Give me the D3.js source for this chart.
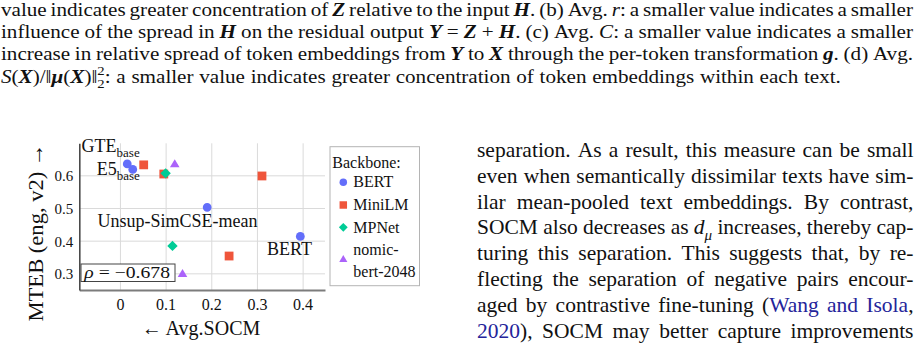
<!DOCTYPE html>
<html><head><meta charset="utf-8">
<script src="https://cdn.jsdelivr.net/npm/d3@7"></script>
<style>
body{margin:0;background:#fff}
svg{display:block}
text{font-family:"Liberation Serif","Times New Roman",Times,serif;fill:#111}
</style>
</head><body>
<svg id="c" width="923" height="362"></svg>
<script>
// ---------------- data ----------------
const backbones = ["BERT", "MiniLM", "MPNet", "nomic-bert-2048"];
const bertSOCM  = [0.016, 0.028, 0.191, 0.395];
const bertMTEB  = [0.635, 0.618, 0.502, 0.413];
const miniSOCM  = [0.052, 0.096, 0.311, 0.239];
const miniMTEB  = [0.632, 0.604, 0.598, 0.353];
const mpnetSOCM = [0.100, 0.115];
const mpnetMTEB = [0.606, 0.384];
const nomicSOCM = [0.120, 0.137];
const nomicMTEB = [0.635, 0.299];
const xTicks = [0, 0.1, 0.2, 0.3, 0.4];
const yTicks = [0.3, 0.4, 0.5, 0.6];
const xDomain = [-0.089, 0.449];
const yDomain = [0.249, 0.698];
const annoText = ["GTE", "E5", "Unsup-SimCSE-mean", "BERT"];
const annoSub  = ["base", "base", "", ""];
const annoSOCM = [-0.084, -0.051, -0.049, 0.322];
const annoMTEB = [0.672, 0.601, 0.443, 0.356];
const rho = -0.678;
const xTitle = "\u2190 Avg.SOCM";
const yTitle = "MTEB (eng, v2) \u2192";
const legendTitle = "Backbone:";

const captionLines = [
  "value indicates greater concentration of *Z* relative to the input *H*. (b) Avg. _r_: a smaller value indicates a smaller",
  "influence of the spread in *H* on the residual output *Y* = *Z* + *H*. (c) Avg. _C_: a smaller value indicates a smaller",
  "increase in relative spread of token embeddings from *Y* to *X* through the per-token transformation *g*. (d) Avg.",
  "_S_(*X*)/\u2016*\u03bc*(*X*)\u2016^{2}~{2}: a smaller value indicates greater concentration of token embeddings within each text."
];
const bodyLines = [
  "separation. As a result, this measure can be small",
  "even when semantically dissimilar texts have sim-",
  "ilar mean-pooled text embeddings. By contrast,",
  "SOCM also decreases as _d_`{\u03bc} increases, thereby cap-",
  "turing this separation. This suggests that, by re-",
  "flecting the separation of negative pairs encour-",
  "aged by contrastive fine-tuning ([Wang] [and] [Isola],",
  "[2020]), SOCM may better capture improvements"
];

// ---------------- helpers ----------------
const svg = d3.select("#c");
const linkColor = "#24249a";

function parseWord(w) {
  const re = /(\*[^*]+\*|_[^_]+_|\^\{[^}]*\}|~\{[^}]*\}|`\{[^}]*\}|\[[^\]]+\])/g;
  const segs = []; let last = 0, m;
  while ((m = re.exec(w))) {
    if (m.index > last) segs.push({t: w.slice(last, m.index), s: "n"});
    const tok = m[0];
    if (tok[0] === "*") segs.push({t: tok.slice(1, -1), s: "bi"});
    else if (tok[0] === "_") segs.push({t: tok.slice(1, -1), s: "i"});
    else if (tok[0] === "^") segs.push({t: tok.slice(2, -1), s: "sup"});
    else if (tok[0] === "~") segs.push({t: tok.slice(2, -1), s: "sub"});
    else if (tok[0] === "`") segs.push({t: tok.slice(2, -1), s: "isub"});
    else segs.push({t: tok.slice(1, -1), s: "link"});
    last = re.lastIndex;
  }
  if (last < w.length) segs.push({t: w.slice(last), s: "n"});
  return segs;
}

function renderWord(g, segs, fs) {
  const t = g.append("text").style("font-size", fs + "px");
  let off = 0, supW = 0, adjust = 0;
  segs.forEach((sg, i) => {
    const ts = t.append("tspan").text(sg.t);
    if (sg.s === "bi") ts.style("font-style", "italic").style("font-weight", "bold");
    if (sg.s === "i" || sg.s === "isub") ts.style("font-style", "italic");
    if (sg.s === "link") ts.style("fill", linkColor);
    let target = 0;
    if (sg.s === "sup" || sg.s === "sub" || sg.s === "isub") ts.style("font-size", (fs * 0.7) + "px");
    if (sg.s === "sup") target = -0.4 * fs;
    else if (sg.s === "sub" || sg.s === "isub") target = 0.28 * fs;
    const dy = target - off;
    if (Math.abs(dy) > 1e-6) ts.attr("dy", dy);
    off = target;
    if (sg.s === "sub" && i > 0 && segs[i - 1].s === "sup") { ts.attr("dx", -supW); adjust -= supW; }
    if (sg.s === "sup") supW = fs * 0.7 * 0.5 * sg.t.length;
  });
  return {node: t, adjust};
}

function setLine(g, line, x0, x1, y, fs, justify) {
  const words = line.split(" ").filter(Boolean).map(parseWord);
  const items = words.map(s => renderWord(g, s, fs));
  const ws = items.map(it => it.node.node().getComputedTextLength() + it.adjust);
  const total = d3.sum(ws);
  const gap = justify && words.length > 1 ? (x1 - x0 - total) / (words.length - 1) : fs * 0.27;
  let x = x0;
  items.forEach((it, i) => { it.node.attr("x", x).attr("y", y); x += ws[i] + gap; });
}

// ---------------- page text ----------------
const capSx = 1.1;
const capG = svg.append("g").attr("transform", `scale(${capSx},1)`);
captionLines.forEach((l, i) => setLine(capG, l, 1 / capSx, 913 / capSx, 15.5 + 22.45 * i, 19.2, i < captionLines.length - 1));
const bodyG = svg.append("g");
bodyLines.forEach((l, i) => setLine(bodyG, l, 477, 913.5, 156.7 + 25.9 * i, 21.5, true));

// ---------------- chart ----------------
const x = d3.scaleLinear().domain(xDomain).range([79.3, 325]);
const y = d3.scaleLinear().domain(yDomain).range([290, 143.3]);
const chart = svg.append("g");

// grid
chart.append("g").attr("transform", `translate(0,${y.range()[0]})`)
  .call(d3.axisBottom(x).tickValues(xTicks).tickSize(-(y.range()[0] - y.range()[1])).tickFormat(""))
  .call(g => g.select(".domain").remove())
  .call(g => g.selectAll("line").attr("stroke", "#dadada").attr("stroke-width", 1));
chart.append("g").attr("transform", `translate(${x.range()[0]},0)`)
  .call(d3.axisLeft(y).tickValues(yTicks).tickSize(-(x.range()[1] - x.range()[0])).tickFormat(""))
  .call(g => g.select(".domain").remove())
  .call(g => g.selectAll("line").attr("stroke", "#dadada").attr("stroke-width", 1));

// axes
const fmtX = d => d === 0 ? "0" : d3.format(".1f")(d);
chart.append("g").attr("transform", `translate(0,${y.range()[0]})`)
  .call(d3.axisBottom(x).tickValues(xTicks).tickSize(0).tickSizeOuter(0).tickFormat(fmtX))
  .call(g => g.select(".domain").attr("stroke", "#7c7c7c").attr("stroke-width", 2))
  .call(g => g.selectAll("text").attr("y", 20).attr("dy", null)
    .style("font-size", "16px").style("font-family", '"Liberation Serif",serif').attr("fill", "#111"));
chart.append("g").attr("transform", `translate(${x.range()[0]},0)`)
  .call(d3.axisLeft(y).tickValues(yTicks).tickSize(0).tickSizeOuter(0).tickPadding(6).tickFormat(d3.format(".1f")))
  .call(g => g.select(".domain").attr("stroke", "#4a4a4a").attr("stroke-width", 1.6))
  .call(g => g.selectAll("text").attr("dy", "0.36em")
    .style("font-size", "15px").style("font-family", '"Liberation Serif",serif').attr("fill", "#111"));

// axis titles
chart.append("text").attr("x", 201).attr("y", 335).attr("text-anchor", "middle")
  .style("font-size", "20px").text(xTitle);
chart.append("text").attr("transform", "translate(43,232.5) rotate(-90)").attr("text-anchor", "middle")
  .style("font-size", "22px").attr("textLength", 178).attr("lengthAdjust", "spacingAndGlyphs").text(yTitle);

// markers
const colors = ["#636efa", "#ef553b", "#00cc96", "#ab63fa"];
const shapes = [
  (cx, cy) => `M${cx + 4.4},${cy}A4.4,4.4 0 1,1 ${cx - 4.4},${cy}A4.4,4.4 0 1,1 ${cx + 4.4},${cy}Z`,
  (cx, cy) => `M${cx - 4.4},${cy - 4.4}h8.8v8.8h-8.8Z`,
  (cx, cy) => `M${cx},${cy - 5.2}L${cx + 5.2},${cy}L${cx},${cy + 5.2}L${cx - 5.2},${cy}Z`,
  (cx, cy) => `M${cx},${cy - 4.6}L${cx + 4.8},${cy + 3.4}L${cx - 4.8},${cy + 3.4}Z`
];
const series = [
  {xs: bertSOCM, ys: bertMTEB},
  {xs: miniSOCM, ys: miniMTEB},
  {xs: mpnetSOCM, ys: mpnetMTEB},
  {xs: nomicSOCM, ys: nomicMTEB}
];
series.forEach((s, k) => {
  chart.append("g").selectAll("path").data(s.xs.map((v, i) => [v, s.ys[i]])).join("path")
    .attr("d", d => shapes[k](x(d[0]), y(d[1]))).attr("fill", colors[k]);
});

// annotations
annoText.forEach((t, i) => {
  const tx = chart.append("text").attr("x", x(annoSOCM[i])).attr("y", y(annoMTEB[i]))
    .style("font-size", "18px").text(t);
  if (annoSub[i]) tx.append("tspan").attr("dy", 5).style("font-size", "13px").text(annoSub[i]);
});

// rho box
const rhoG = chart.append("g");
rhoG.append("rect").attr("x", 81).attr("y", 264).attr("width", 94).attr("height", 17.5)
  .attr("fill", "#fff").attr("stroke", "#444").attr("stroke-width", 1);
const rt = rhoG.append("text").attr("x", 84.3).attr("y", 277.5).style("font-size", "17.5px")
  .attr("textLength", 85.7).attr("lengthAdjust", "spacingAndGlyphs");
rt.append("tspan").style("font-style", "italic").text("\u03c1");
rt.append("tspan").text(" = \u2212" + d3.format(".3f")(Math.abs(rho)));

// legend
const lg = chart.append("g");
lg.append("rect").attr("x", 330).attr("y", 146.7).attr("width", 89.5).attr("height", 139)
  .attr("fill", "#fff").attr("stroke", "#b4b4b4").attr("stroke-width", 1);
lg.append("text").attr("x", 332.3).attr("y", 168.3).style("font-size", "16px").text(legendTitle);
const legMarkY = [182.3, 205, 227.3, 259];
const legTextY = [186.7, 210, 232.7, 255];
backbones.forEach((b, k) => {
  lg.append("path").attr("d", shapes[k](343.3, legMarkY[k])).attr("fill", colors[k])
    .attr("transform", `translate(${343.3},${legMarkY[k]}) scale(0.85) translate(${-343.3},${-legMarkY[k]})`);
  const parts = b === "nomic-bert-2048" ? ["nomic-", "bert-2048"] : [b];
  parts.forEach((p, j) => lg.append("text").attr("x", 353.3).attr("y", legTextY[k] + j * 22.3)
    .style("font-size", "16px").text(p));
});
</script>
</body></html>
